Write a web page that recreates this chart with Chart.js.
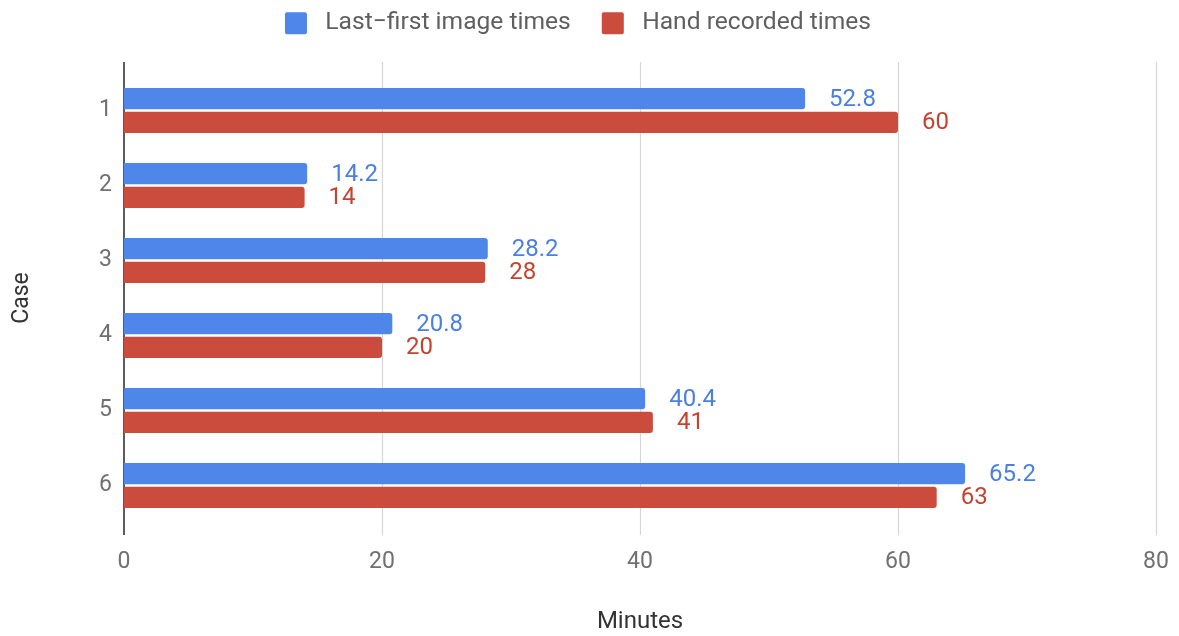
<!DOCTYPE html>
<html>
<head>
<meta charset="utf-8">
<script src="https://cdn.jsdelivr.net/npm/chart.js@4.4.1/dist/chart.umd.min.js"></script>
<style>
html,body{margin:0;padding:0;background:#fff;}
#wrap{width:1179px;height:636px;position:relative;}
</style>
</head>
<body>
<div id="wrap"><canvas id="c" width="1179" height="636"></canvas></div>
<script>
const categories = ['1','2','3','4','5','6'];
const lastFirstTimes = [52.8, 14.2, 28.2, 20.8, 40.4, 65.2];
const handRecordedTimes = [60, 14, 28, 20, 41, 63];
const xTicks = [0, 20, 40, 60, 80];
const seriesNames = ['Last\u2212first image times', 'Hand recorded times'];

const BLUE = '#4f86ea';
const RED = '#cb4b3d';
const BLUE_TXT = '#4a7fe3';
const RED_TXT = '#c5442f';
const FONT = 'Roboto, "Noto Sans", sans-serif';

const extras = {
  id: 'extras',
  afterInit(chart) {
    const lg = chart.legend;
    if (lg) {
      const origFit = lg.fit;
      lg.fit = function () { origFit.call(this); this.height = 73; };
      const origDraw = lg.draw;
      lg.draw = function () {
        const ctx = this.ctx;
        ctx.save();
        ctx.translate(0, -20);
        origDraw.apply(this, arguments);
        ctx.restore();
      };
    }
  },
  beforeDatasetsDraw(chart) {
    const {ctx, chartArea, scales} = chart;
    const x = scales.x;
    ctx.save();
    ctx.strokeStyle = '#d6d6d6';
    ctx.lineWidth = 1.2;
    xTicks.forEach(v => {
      if (v === 0) return;
      const px = Math.round(x.getPixelForValue(v)) + 0.5;
      ctx.beginPath();
      ctx.moveTo(px, chartArea.top - 11);
      ctx.lineTo(px, chartArea.bottom + 12);
      ctx.stroke();
    });
    ctx.strokeStyle = '#333';
    ctx.lineWidth = 1.6;
    const p0 = x.getPixelForValue(0);
    ctx.beginPath();
    ctx.moveTo(p0, chartArea.top - 11);
    ctx.lineTo(p0, chartArea.bottom + 12);
    ctx.stroke();
    ctx.restore();
  },
  afterDatasetsDraw(chart) {
    const {ctx} = chart;
    ctx.save();
    ctx.font = '24px ' + FONT;
    ctx.textBaseline = 'middle';
    ctx.textAlign = 'left';
    chart.data.datasets.forEach((ds, i) => {
      const meta = chart.getDatasetMeta(i);
      ctx.fillStyle = i === 0 ? BLUE_TXT : RED_TXT;
      meta.data.forEach((bar, j) => {
        ctx.fillText(String(ds.data[j]), bar.x + 24, bar.y + 1);
      });
    });
    ctx.restore();
  }
};

new Chart(document.getElementById('c'), {
  type: 'bar',
  data: {
    labels: categories,
    datasets: [
      {label: seriesNames[0], data: lastFirstTimes, backgroundColor: BLUE, borderRadius: {topRight: 3, bottomRight: 3}, borderSkipped: 'start'},
      {label: seriesNames[1], data: handRecordedTimes, backgroundColor: RED, borderRadius: {topRight: 3, bottomRight: 3}, borderSkipped: 'start'}
    ]
  },
  options: {
    indexAxis: 'y',
    responsive: false,
    animation: false,
    devicePixelRatio: 1,
    categoryPercentage: 0.63,
    barPercentage: 0.9,
    layout: {padding: {left: 0, right: 23, top: 0, bottom: 0}},
    plugins: {
      tooltip: {enabled: false},
      legend: {
        position: 'top',
        labels: {
          font: {family: FONT, size: 24.6},
          color: '#5f5f5f',
          boxWidth: 22,
          boxHeight: 22,
          padding: 31,
          useBorderRadius: true,
          borderRadius: 2,
          generateLabels(chart) {
            const items = Chart.defaults.plugins.legend.labels.generateLabels(chart);
            items.forEach(it => { it.text = ' ' + it.text; });
            return items;
          }
        }
      }
    },
    scales: {
      x: {
        min: 0, max: 80,
        afterBuildTicks(scale) { scale.ticks = xTicks.map(v => ({value: v})); },
        grid: {display: false},
        border: {display: false},
        ticks: {font: {family: FONT, size: 23}, color: '#707070', padding: 17},
        title: {display: true, text: 'Minutes', font: {family: FONT, size: 24}, color: '#333', padding: {top: 20, bottom: 0}},
        afterFit(scale) { scale.height = 113; scale.paddingRight = 0; scale.paddingLeft = 0; }
      },
      y: {
        grid: {display: false},
        border: {display: false},
        ticks: {font: {family: FONT, size: 23}, color: '#707070', padding: 4},
        title: {display: true, text: 'Case', font: {family: FONT, size: 23}, color: '#333', padding: {top: 8, bottom: 4}},
        afterFit(scale) { scale.width = 124; }
      }
    }
  },
  plugins: [extras]
});
</script>
</body>
</html>
